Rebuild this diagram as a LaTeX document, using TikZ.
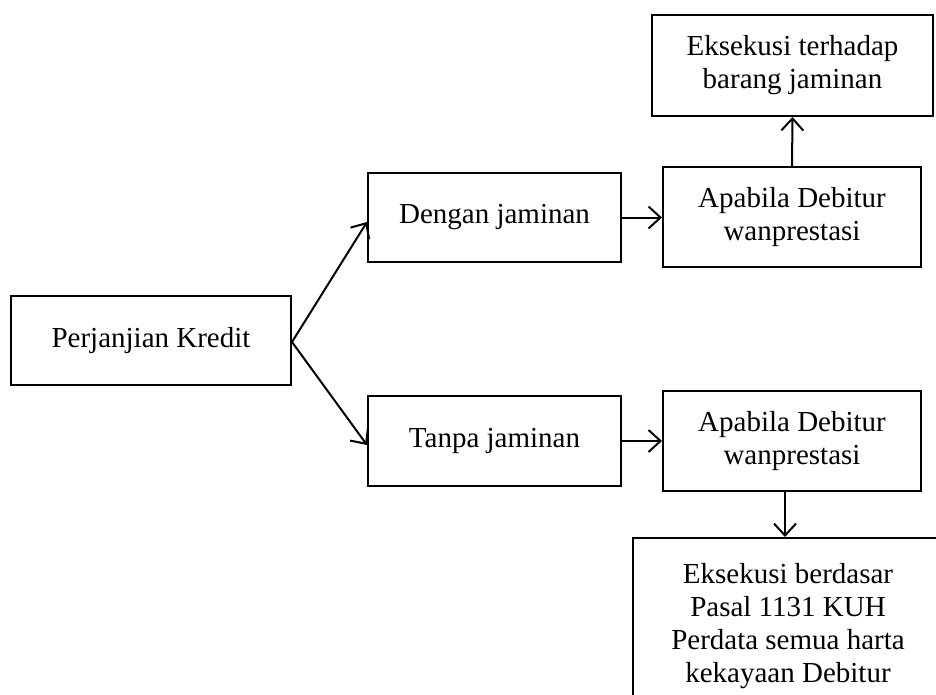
\documentclass[tikz,border=0pt]{standalone}
\usepackage{fontspec}
\setmainfont{Liberation Serif}
\usetikzlibrary{arrows.meta}
\begin{document}
\begin{tikzpicture}[x=1pt,y=-1pt,
  box/.style={draw, line width=2pt, inner sep=0pt, align=center, font=\fontsize{29}{33}\selectfont},
  arr/.style={line width=2pt, -{Straight Barb[length=12pt,width=22pt,line width=2pt]}}]
\useasboundingbox (0,0) rectangle (936,695);
\fill[white] (0,0) rectangle (936,695);
\clip (0,0) rectangle (936,695);
\node[box, minimum width=280pt, minimum height=89pt] (pk) at (151,340.5) {Perjanjian Kredit};
\node[box, minimum width=253pt, minimum height=89pt] (dj) at (494.5,217.5) {Dengan jaminan};
\node[box, minimum width=253pt, minimum height=90pt] (tj) at (494.5,441) {Tanpa jaminan};
\node[box, minimum width=258pt, minimum height=100pt] (a1) at (792,217) {Apabila Debitur\\wanprestasi};
\node[box, minimum width=258pt, minimum height=100pt] (a2) at (792,441) {Apabila Debitur\\wanprestasi};
\node[box, minimum width=281pt, minimum height=101pt] (e1) at (792.5,65.5) {Eksekusi terhadap\\barang jaminan};
\node[box, anchor=north, minimum width=310pt, inner ysep=25pt] (e2) at (788,537) {Eksekusi berdasar\\Pasal 1131 KUH\\Perdata semua harta\\kekayaan Debitur};
\coordinate (dn) at (785,0);
\draw[arr] ([yshift=-1.5pt]pk.east) -- ([yshift=-4.5pt]dj.west);
\draw[arr] ([yshift=-1.5pt]pk.east) -- ([yshift=-4pt]tj.west);
\draw[arr] (dj.east) -- (a1.west |- dj.east);
\draw[arr] (tj.east) -- (a2.west |- tj.east);
\draw[arr] (a1.north) -- (e1.south);
\draw[arr] (a2.south -| dn) -- (e2.north -| dn);
\end{tikzpicture}
\end{document}
